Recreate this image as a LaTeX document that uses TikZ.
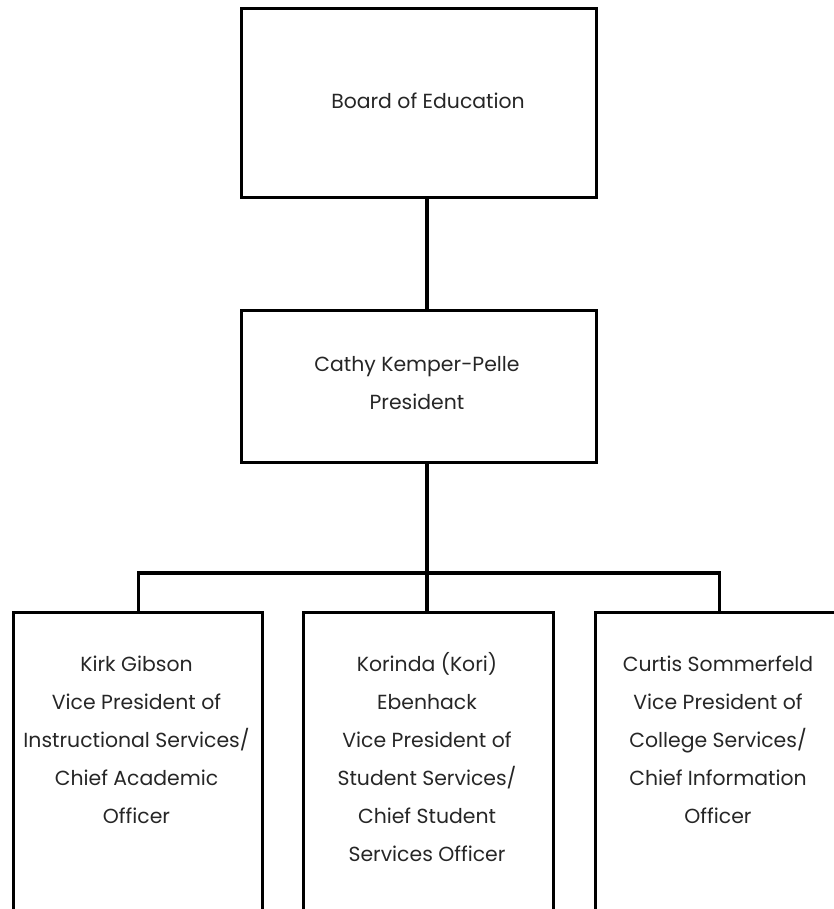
\documentclass[tikz,border=0pt]{standalone}
\usepackage{fontspec}
\setmainfont{Poppins}
\begin{document}
\begin{tikzpicture}[x=0.75pt,y=-0.75pt,
  box/.style={draw=black,line width=2.4pt,rectangle,inner sep=0pt,anchor=north west},
  lbl/.style={align=center,inner sep=0pt,font=\fontsize{15.3}{28.5}\selectfont,text=black!85},
  conn/.style={draw=black,line width=2.4pt}]
\useasboundingbox (0,0) rectangle (834,909);
\clip (0,0) rectangle (834,909);
\node[box,minimum width=355*0.75pt,minimum height=189*0.75pt] (board) at (240,7) {};
\node[box,minimum width=355*0.75pt,minimum height=152*0.75pt] (pres) at (240,309) {};
\node[box,minimum width=249*0.75pt,minimum height=340*0.75pt] (vp1) at (12,611) {};
\node[box,minimum width=250*0.75pt,minimum height=340*0.75pt] (vp2) at (302,611) {};
\node[box,minimum width=248*0.75pt,minimum height=340*0.75pt] (vp3) at (594,611) {};
\coordinate (bar) at (427,573);
\node[lbl] (tboard) at (428,101) {Board of Education};
\node[lbl] (tpres) at (417,383) {Cathy Kemper-Pelle\\President};
\node[lbl,anchor=north] (tvp1) at (136.5,645) {\strut Kirk Gibson\\Vice President of\\Instructional Services/\\Chief Academic\\Officer};
\node[lbl,anchor=north] (tvp2) at (427,645) {\strut Korinda (Kori)\\Ebenhack\\Vice President of\\Student Services/\\Chief Student\\Services Officer};
\node[lbl,anchor=north] (tvp3) at (718,645) {\strut Curtis Sommerfeld\\Vice President of\\College Services/\\Chief Information\\Officer};
\draw[conn] (board.south -| bar) -- (pres.north -| bar);
\draw[conn] (pres.south -| bar) -- (vp2.north -| bar);
\draw[conn] (vp1.north) -- (vp1.north |- bar) -- (vp3.north |- bar) -- (vp3.north);
\end{tikzpicture}
\end{document}
